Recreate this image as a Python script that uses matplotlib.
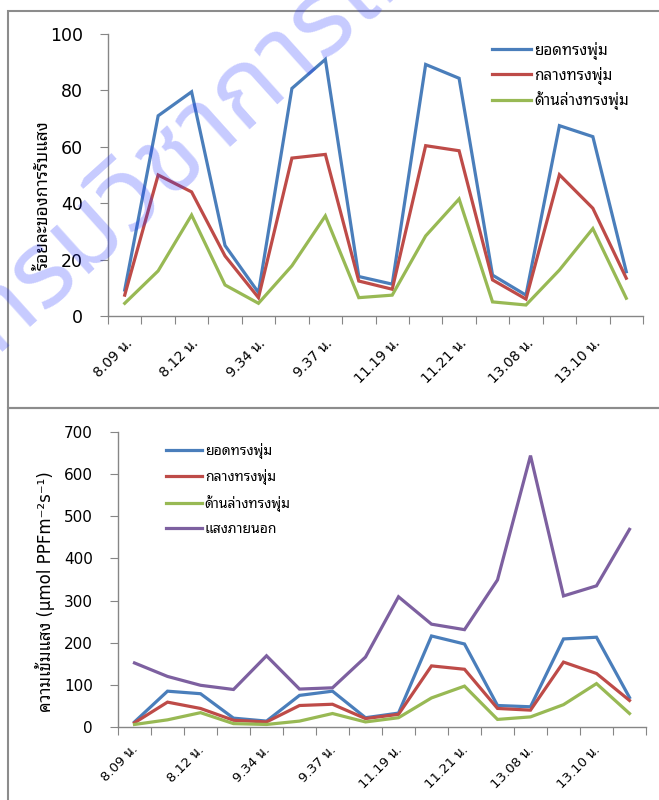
import matplotlib
matplotlib.use("Agg")
import matplotlib.pyplot as plt
from matplotlib import font_manager
from matplotlib.ft2font import FT2Font
from matplotlib.patches import Rectangle
from matplotlib.transforms import offset_copy

# เลือกฟอนต์ไทย (แบบมีหัว ใกล้ Tahoma ที่สุดก่อน)
ชื่อฟอนต์ = {f.name for f in font_manager.fontManager.ttflist}


def เลือกฟอนต์(รายชื่อ):
    for ชื่อ in รายชื่อ:
        if ชื่อ in ชื่อฟอนต์:
            return ชื่อ
    for f in font_manager.fontManager.ttflist:
        try:
            if 0x0E01 in FT2Font(f.fname).get_charmap():
                return f.name
        except Exception:
            pass
    return None


thai_font = เลือกฟอนต์(['Noto Sans Thai Looped', 'Sarabun', 'IBM Plex Sans Thai Looped',
                        'Noto Sans Thai', 'Anuphan', 'Niramit'])
# ฟอนต์ไม่มีหัวสำหรับลายน้ำ
wm_font = เลือกฟอนต์(['Noto Sans Thai', 'Kanit', 'Prompt', 'Anuphan']) or thai_font

families = ['DejaVu Sans'] + ([thai_font] if thai_font else [])
plt.rcParams['font.family'] = families

เวลา = ['8.09 น.', '8.12 น.', '9.34 น.', '9.37 น.', '11.19 น.', '11.21 น.', '13.08 น.', '13.10 น.']
ชื่อชุด = ['ยอดทรงพุ่ม', 'กลางทรงพุ่ม', 'ด้านล่างทรงพุ่ม', 'แสงภายนอก']

# ร้อยละของการรับแสง
ร้อยละ_ยอด = [9.2, 71, 79.5, 25, 8.3, 80.7, 91, 14, 11.3, 89.2, 84.3, 14.5, 7.4, 67.5, 63.6, 15.7]
ร้อยละ_กลาง = [7.4, 50, 44, 21.3, 6.5, 56, 57.3, 12.4, 9.5, 60.4, 58.6, 12.8, 6, 50.1, 38.2, 13.4]
ร้อยละ_ล่าง = [4.5, 16, 35.8, 11, 4.5, 17.8, 35.5, 6.5, 7.4, 28.4, 41.5, 5, 3.9, 16.3, 31, 6.3]

# ความเข้มแสง
แสง_ยอด = [12, 85, 79, 21, 14, 75, 85, 22, 33, 216, 197, 51, 48, 209, 213, 70]
แสง_กลาง = [10, 59, 44, 16, 12, 51, 54, 20, 30, 145, 137, 44, 40, 154, 127, 63]
แสง_ล่าง = [6, 17, 34, 8, 6, 14, 32, 12, 22, 69, 97, 18, 24, 53, 103, 32]
แสง_นอก = [152, 120, 99, 89, 169, 90, 93, 166, 309, 244, 231, 349, 644, 311, 335, 469]

สี = ['#4A7EBB', '#BE4B48', '#98B954', '#7D60A0']
สีแกน = '#868686'

W, H = 659, 800
fig = plt.figure(figsize=(W / 100, H / 100), dpi=100)


def px(x0, y0, x1, y1):
    return [x0 / W, 1 - y1 / H, (x1 - x0) / W, (y1 - y0) / H]


# กรอบของแต่ละแผนภูมิ
for y0, y1 in [(11, 408), (408, 900)]:
    fig.patches.append(Rectangle((8 / W, 1 - y1 / H), 2, (y1 - y0) / H,
                                 transform=fig.transFigure, fill=False,
                                 edgecolor='#8c8c8c', linewidth=1.5))


def ตั้งแกน(ax, ymax, ystep, fs_y, fs_x, dx, dy):
    n = len(ร้อยละ_ยอด)
    ax.set_xlim(-0.5, n - 0.5)
    ax.set_ylim(0, ymax)
    ax.set_yticks(range(0, ymax + 1, ystep))
    for s in ['top', 'right']:
        ax.spines[s].set_visible(False)
    for s in ['left', 'bottom']:
        ax.spines[s].set_color(สีแกน)
        ax.spines[s].set_linewidth(1)
    ax.set_xticks([i - 0.5 for i in range(n + 1)])
    ax.set_xticklabels([])
    ax.tick_params(axis='x', length=6, color=สีแกน, direction='out')
    ax.tick_params(axis='y', length=6, color=สีแกน, pad=12, labelsize=fs_y)
    tr = offset_copy(ax.get_xaxis_transform(), fig=fig, x=dx, y=dy, units='dots')
    for i, lab in zip(range(0, n, 2), เวลา):
        ax.text(i, 0, lab, transform=tr, rotation=45, rotation_mode='anchor',
                ha='right', va='baseline', fontsize=fs_x)
    ax.patch.set_alpha(0)


# แผนภูมิบน: ร้อยละของการรับแสง
ax1 = fig.add_axes(px(108, 34, 643, 316))
for ys, c, lab in zip([ร้อยละ_ยอด, ร้อยละ_กลาง, ร้อยละ_ล่าง], สี, ชื่อชุด):
    ax1.plot(range(len(ys)), ys, color=c, linewidth=2.3, label=lab, solid_joinstyle='miter')
ตั้งแกน(ax1, 100, 20, 12.5, 10, 8, -28)
fig.text(43 / W, 1 - 195 / H, 'ร้อยละของการรับแสง', rotation=90,
         ha='center', va='center', fontsize=12.5, fontweight=500)
ax1.legend(loc='upper left', bbox_to_anchor=(484 / W, 1 - 34 / H),
           bbox_transform=fig.transFigure, frameon=False,
           prop={'size': 11, 'weight': 500},
           handlelength=2.6, handletextpad=0.2, labelspacing=0.45, borderpad=0)

# แผนภูมิล่าง: ความเข้มแสง
ax2 = fig.add_axes(px(118, 432, 646, 727))
for ys, c, lab in zip([แสง_ยอด, แสง_กลาง, แสง_ล่าง, แสง_นอก], สี, ชื่อชุด):
    ax2.plot(range(len(ys)), ys, color=c, linewidth=2.3, label=lab, solid_joinstyle='miter')
ตั้งแกน(ax2, 700, 100, 11, 9.5, 4, -23)
fig.text(45 / W, 1 - 592 / H, 'ความเข้มแสง (µmol PPFm⁻²s⁻¹)', rotation=90,
         ha='center', va='center', fontsize=12, fontweight=500)
ax2.legend(loc='upper left', bbox_to_anchor=(159 / W, 1 - 436 / H),
           bbox_transform=fig.transFigure, frameon=False,
           prop={'size': 10, 'weight': 500},
           handlelength=2.6, handletextpad=0.2, labelspacing=0.72, borderpad=0)

# ลายน้ำ
fig.text(-5 / W, 1 - 352 / H, 'กรมวิชาการเกษตร', rotation=42, rotation_mode='anchor',
         ha='left', va='baseline', fontsize=76, fontweight='bold',
         family=[wm_font, 'DejaVu Sans'], color='#2030ff', alpha=0.25, zorder=10)

fig.savefig('out.png', dpi=100)
